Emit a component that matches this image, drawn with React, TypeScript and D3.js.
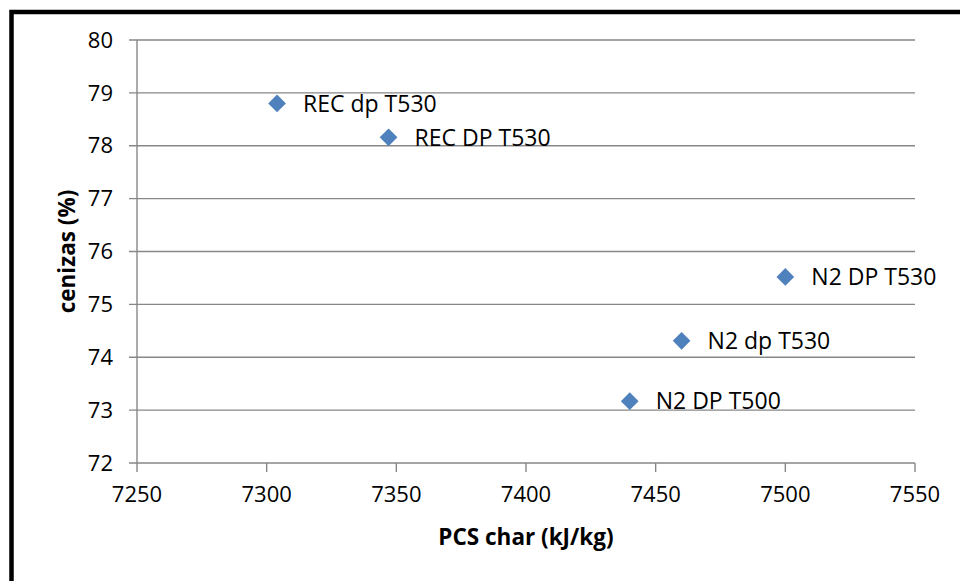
import React from "react";
import * as d3 from "d3";

const labels = ["REC dp T530", "REC DP T530", "N2 DP T500", "N2 DP T530", "N2 dp T530"];
const pcs = [7304, 7347, 7440, 7500, 7460];
const cenizas = [78.8, 78.16, 73.17, 75.52, 74.31];
const xTicks = [7250, 7300, 7350, 7400, 7450, 7500, 7550];
const yTicks = [72, 73, 74, 75, 76, 77, 78, 79, 80];

const W = 960;
const H = 581;
const plot = { left: 137, right: 915, top: 40, bottom: 463 };
const FONT = "'Open Sans', 'Liberation Sans', sans-serif";
const GRID = "#878787";
const MARK = "#4F81BD";

export default function App() {
  const x = d3.scaleLinear().domain([7250, 7550]).range([plot.left, plot.right]);
  const y = d3.scaleLinear().domain([72, 80]).range([plot.bottom, plot.top]);
  const diamond = d3.symbol().type(d3.symbolDiamond2).size(200)();

  return (
    <svg
      width={W}
      height={H}
      style={{ position: "absolute", left: 0, top: 0, background: "#fff" }}
      fontFamily={FONT}
    >
      <rect x={11.5} y={12} width={2000} height={2000} fill="none" stroke="#000" strokeWidth={4.5} />

      {/* horizontal gridlines */}
      {yTicks.map((t) => (
        <line key={"g" + t} x1={plot.left - 8} x2={plot.right} y1={y(t)} y2={y(t)} stroke={GRID} strokeWidth={1.4} />
      ))}
      {/* y axis line */}
      <line x1={plot.left} x2={plot.left} y1={plot.top} y2={plot.bottom} stroke={GRID} strokeWidth={1.4} />
      {/* x axis ticks */}
      {xTicks.map((t) => (
        <line key={"xt" + t} x1={x(t)} x2={x(t)} y1={plot.bottom} y2={plot.bottom + 9} stroke={GRID} strokeWidth={1.4} />
      ))}

      {yTicks.map((t) => (
        <text key={"yl" + t} x={plot.left - 24} y={y(t)} dy="0.35em" textAnchor="end" fontSize={22} fill="#000">
          {t}
        </text>
      ))}
      {xTicks.map((t) => (
        <text key={"xl" + t} x={x(t)} y={plot.bottom + 39} textAnchor="middle" fontSize={22} fill="#000">
          {t}
        </text>
      ))}

      <text x={(plot.left + plot.right) / 2} y={545} textAnchor="middle" fontSize={22.5} fontWeight="bold" fill="#000">
        PCS char (kJ/kg)
      </text>
      <text
        transform={`translate(${75},${(plot.top + plot.bottom) / 2}) rotate(-90)`}
        textAnchor="middle"
        fontSize={22.5}
        fontWeight="bold"
        fill="#000"
      >
        cenizas (%)
      </text>

      {pcs.map((v, i) => (
        <g key={labels[i]}>
          <path d={diamond!} transform={`translate(${x(v)},${y(cenizas[i])})`} fill={MARK} />
          <text x={x(v) + 26} y={y(cenizas[i])} dy="0.36em" fontSize={23} fill="#000">
            {labels[i]}
          </text>
        </g>
      ))}
    </svg>
  );
}
